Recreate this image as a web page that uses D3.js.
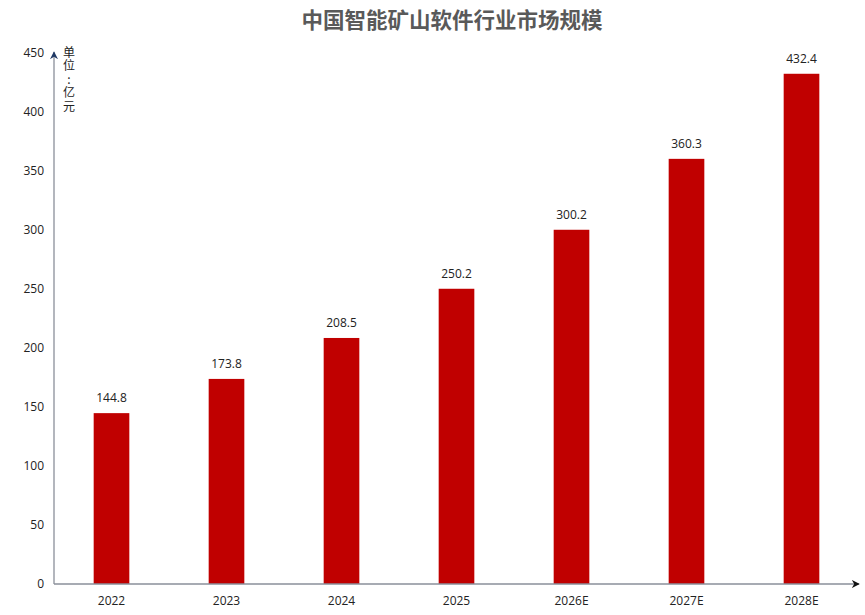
<!DOCTYPE html>
<html>
<head>
<meta charset="utf-8">
<script src="https://cdn.jsdelivr.net/npm/d3@7"></script>
<style>
  body { margin: 0; background: #fff; }
  text { font-family: "Open Sans", "Noto Sans CJK SC", sans-serif; }
</style>
</head>
<body>
<script>
// chart data
var years = ["2022", "2023", "2024", "2025", "2026E", "2027E", "2028E"];
var marketSize = [144.8, 173.8, 208.5, 250.2, 300.2, 360.3, 432.4];
var yTicks = [0, 50, 100, 150, 200, 250, 300, 350, 400, 450];

function draw() {
    var w = 865;
    var h = 615;
    var svg = d3.select("body")
        .append("svg")
        .attr("width", w)
        .attr("height", h);

    var x0 = 54, y0 = 584;

    var xScale = d3.scaleBand()
        .domain(years)
        .range([x0, x0 + 7 * 115])
        .paddingInner(0.69)
        .paddingOuter(0.345);

    var yScale = d3.scaleLinear()
        .domain([0, 450])
        .range([y0, 53]);

    // title
    svg.append("text")
        .attr("x", 452)
        .attr("y", 28)
        .attr("text-anchor", "middle")
        .attr("font-size", 21.5)
        .attr("font-weight", "bold")
        .attr("fill", "#595959")
        .style("font-family", "'Noto Sans CJK SC', sans-serif")
        .text("中国智能矿山软件行业市场规模");

    // bars
    svg.selectAll("rect.bar")
        .data(marketSize)
        .enter()
        .append("rect")
        .attr("class", "bar")
        .attr("x", function(d, i) { return xScale(years[i]); })
        .attr("y", function(d) { return yScale(d); })
        .attr("width", xScale.bandwidth())
        .attr("height", function(d) { return y0 - yScale(d); })
        .attr("fill", "#c00000");

    // value labels
    svg.selectAll("text.val")
        .data(marketSize)
        .enter()
        .append("text")
        .attr("class", "val")
        .attr("x", function(d, i) { return xScale(years[i]) + xScale.bandwidth() / 2; })
        .attr("y", function(d) { return yScale(d) - 11; })
        .attr("text-anchor", "middle")
        .attr("font-size", 12)
        .attr("fill", "#222")
        .text(function(d) { return d.toFixed(1); });

    // y axis
    var yAxis = d3.axisLeft(yScale).tickValues(yTicks).tickSize(0).tickPadding(10);
    var gy = svg.append("g")
        .attr("transform", "translate(" + x0 + ",0)")
        .call(yAxis);
    gy.select(".domain").remove();
    gy.selectAll("text").attr("font-size", 12).attr("fill", "#222")
        .style("font-family", "'Open Sans', sans-serif");

    // x axis
    var xAxis = d3.axisBottom(xScale).tickSize(0).tickPadding(12);
    var gx = svg.append("g")
        .attr("transform", "translate(0," + y0 + ")")
        .call(xAxis);
    gx.select(".domain").remove();
    gx.selectAll("text").attr("font-size", 12).attr("fill", "#222")
        .style("font-family", "'Open Sans', sans-serif");

    // arrow markers
    var defs = svg.append("defs");
    defs.append("marker")
        .attr("id", "arrY")
        .attr("viewBox", "0 0 10 10")
        .attr("refX", 9).attr("refY", 5)
        .attr("markerWidth", 8).attr("markerHeight", 8)
        .attr("markerUnits", "userSpaceOnUse")
        .attr("orient", "auto")
        .append("path").attr("d", "M0,0 L10,5 L0,10 L3,5 Z").attr("fill", "#1f3864");
    defs.append("marker")
        .attr("id", "arrX")
        .attr("viewBox", "0 0 10 10")
        .attr("refX", 9).attr("refY", 5)
        .attr("markerWidth", 8).attr("markerHeight", 8)
        .attr("markerUnits", "userSpaceOnUse")
        .attr("orient", "auto")
        .append("path").attr("d", "M0,0 L10,5 L0,10 L3,5 Z").attr("fill", "#111");

    svg.append("line")
        .attr("x1", x0).attr("y1", y0)
        .attr("x2", x0).attr("y2", 52)
        .attr("stroke", "#8a8f9a").attr("stroke-width", 1.3)
        .attr("marker-end", "url(#arrY)");
    svg.append("line")
        .attr("x1", x0).attr("y1", y0)
        .attr("x2", 859).attr("y2", y0)
        .attr("stroke", "#8a8f9a").attr("stroke-width", 1.3)
        .attr("marker-end", "url(#arrX)");

    // unit label, written vertically as one text
    svg.append("text")
        .attr("x", 69)
        .attr("y", 46)
        .attr("font-size", 12)
        .attr("fill", "#222")
        .style("font-family", "'Noto Sans CJK SC', sans-serif")
        .style("writing-mode", "vertical-rl")
        .style("text-orientation", "upright")
        .style("letter-spacing", "1.5px")
        .text("单位:亿元");
}
window.onload = draw;
</script>
</body>
</html>
